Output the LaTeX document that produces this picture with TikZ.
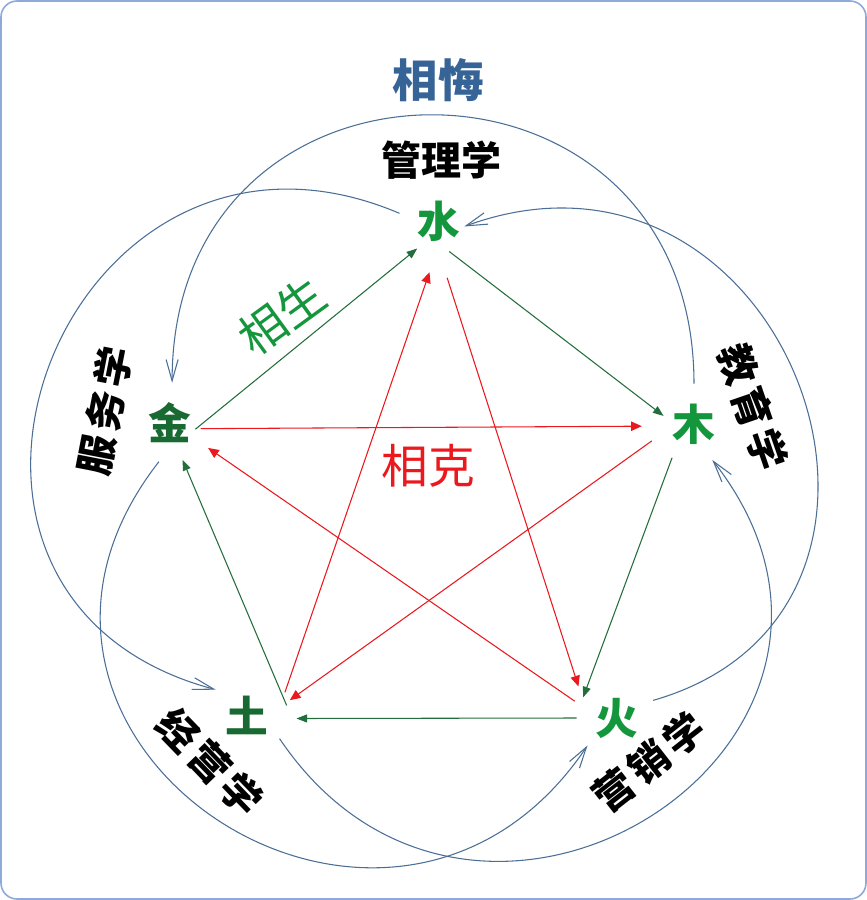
\documentclass[tikz,border=0pt]{standalone}
\usepackage{fontspec}
\newfontfamily\cjk{Noto Sans CJK SC}
\newfontfamily\cjkwide{Noto Sans CJK SC}[LetterSpace=12]
\usetikzlibrary{arrows.meta, positioning}

\definecolor{shengGreen}{RGB}{35,110,60}
\definecolor{elemGreen}{RGB}{20,150,60}
\definecolor{elemDark}{RGB}{25,105,50}
\definecolor{keRed}{RGB}{235,25,30}
\definecolor{huiBlue}{RGB}{75,110,150}
\definecolor{titleBlue}{RGB}{55,100,150}
\definecolor{frameBlue}{RGB}{142,170,219}

\tikzset{
  elem/.style={circle, minimum size=60pt, inner sep=0pt, font=\cjk\bfseries\fontsize{32}{32}\selectfont},
  field/.style={font=\cjk\bfseries\fontsize{30}{30}\selectfont},
  slanted/.style={font=\cjkwide\bfseries\fontsize{30}{30}\selectfont},
  sheng/.style={draw=shengGreen, line width=0.8pt, -{Triangle[length=8pt,width=6pt]}},
  ke/.style={draw=keRed, line width=0.8pt, -{Triangle[length=8pt,width=7pt]}, shorten <=4pt, shorten >=4pt},
  hui/.style={draw=huiBlue, line width=0.8pt, -{Straight Barb[length=16pt,width=9pt]}}
}

\begin{document}
\begin{tikzpicture}[x=0.75pt, y=-0.75pt]
    % Define the page and its frame
    \useasboundingbox (0,0) rectangle (867,900);
    \draw[frameBlue, line width=1.2pt, rounded corners=12pt] (1,1) rectangle (866,899);

    % Define the five elements
    \node[elem, text=elemGreen] (shui) at (439,221) {水};
    \node[elem, text=elemGreen] (mu) at (694,424) {木};
    \node[elem, text=elemGreen] (huo) at (617,718) {火};
    \node[elem, text=elemDark] (tu) at (247,715) {土};
    \node[elem, text=elemDark] (jin) at (170,423) {金};

    % Label the fields
    \node[field] (guanli) at (441,160) {管理学};
    \node[slanted, rotate=-71] (jiaoyu) at (753,407) {教育学};
    \node[slanted, rotate=38] (yingxiao) at (649,762) {营销学};
    \node[slanted, rotate=-46] (jingying) at (210,762) {经营学};
    \node[slanted, rotate=79] (fuwu) at (105,411) {服务学};

    % Label the cycles
    \node[font=\cjk\bfseries\fontsize{34}{34}\selectfont, text=titleBlue] (hui) at (438,80) {相悔};
    \node[font=\cjk\fontsize{35}{35}\selectfont, text=elemGreen, rotate=36] (shengLabel) at (282,316) {相生};
    \node[font=\cjk\fontsize{35}{35}\selectfont, text=keRed] (keLabel) at (428,466) {相克};

    % Draw the generating cycle
    \draw[sheng, shorten <=-14pt, shorten >=-4pt] (jin.8) -- (shui.-130);
    \draw[sheng, shorten <=-7pt, shorten >=-7pt] (shui.-64) -- (mu.160);
    \draw[sheng, shorten >=-2pt] (mu.-123) -- (huo.145);
    \draw[sheng, shorten >=7pt] (huo.180) -- (tu.-5);
    \draw[sheng, shorten <=-4pt, shorten >=-1pt] (tu.21) -- (jin.-71);

    % Draw the overcoming cycle
    \draw[ke, shorten <=-7pt, shorten >=9pt] (jin.-8) -- (mu.-177);
    \draw[ke] (mu.-160) -- (tu.17);
    \draw[ke, shorten >=9pt] (tu.26) -- (shui.-98);
    \draw[ke, shorten <=13pt, shorten >=9pt] (shui.-86) -- (huo.150);
    \draw[ke] (huo.160) -- (jin.-33);

    % Draw the insulting cycle
    \draw[hui] (mu.90) to[out=90, in=90, looseness=1.75] (jin.87);
    \draw[hui] (shui.169) to[out=157, in=165, looseness=1.82] (tu.141);
    \draw[hui] (jin.-106) to[out=-128, in=-124, looseness=1.77] (huo.-137);
    \draw[hui] (tu.-36) to[out=-56, in=-52, looseness=1.77] (mu.-63);
    \draw[hui, shorten >=-12pt] (huo.26) to[out=16, in=20, looseness=1.65] (shui.0);
\end{tikzpicture}
\end{document}
